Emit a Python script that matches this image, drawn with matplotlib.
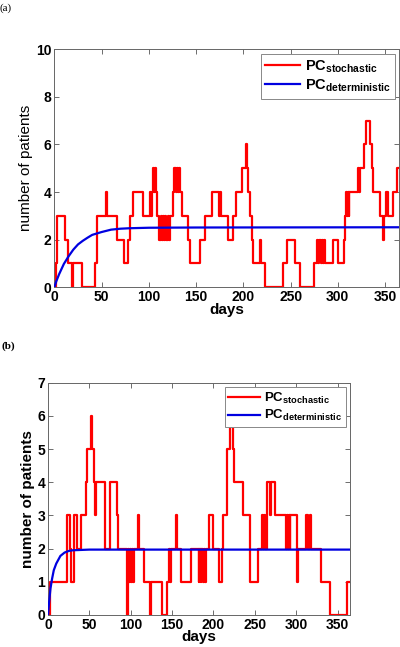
import matplotlib
matplotlib.use("Agg")
import matplotlib.pyplot as plt

plt.rcParams['font.family'] = ['Liberation Sans', 'DejaVu Sans']
plt.rcParams['mathtext.fontset'] = 'custom'
plt.rcParams['mathtext.rm'] = 'Liberation Sans'
plt.rcParams['mathtext.bf'] = 'Liberation Sans:bold'

# ---------------- data: panel (a) ----------------
a_step_days = [0, 1.4, 2.5, 3.2, 11, 14.8, 19, 20, 29, 42.5, 44.7, 54.3, 55.3, 65.8, 73.6,
               78.2, 80, 82.7, 94, 101, 102.5, 103, 104.6, 105.5, 106, 107.4, 108.8, 111,
               112.5, 113.5, 115, 116, 117.5, 118.5, 120, 121, 122, 126, 127, 128.5, 129.5,
               130.5, 131.5, 133, 135, 141.8, 143.6, 154.2, 159.5, 166.6, 174, 175, 176.5,
               183.5, 189.5, 192, 199, 202.5, 203.5, 205, 207, 209, 210.6, 217.5, 218.5,
               223.3, 241.7, 246, 254.8, 260, 275.2, 277.7, 279, 280.6, 282, 283, 284.5,
               285.5, 286.6, 294.6, 300.6, 306.6, 307.3, 309, 310, 310.7, 311.4, 312, 321,
               322, 323, 327.8, 329.6, 334.2, 336, 337.7, 344.8, 347.6, 349, 351, 353.5,
               358, 362.4]
a_step_vals = [0, 1, 2, 3, 2, 1, 0, 1, 0, 1, 3, 4, 3, 2, 1,
               2, 3, 4, 3, 4, 3, 4, 5, 4, 5, 4, 3, 2,
               3, 2, 3, 2, 3, 2, 3, 2, 3, 4, 5, 4, 5,
               4, 5, 4, 3, 2, 1, 2, 3, 4, 3, 4, 3,
               2, 3, 4, 5, 6, 5, 4, 3, 2, 1, 2, 1,
               0, 1, 2, 1, 0, 1, 2, 1, 2, 1, 2, 1,
               2, 1, 2, 1, 2, 3, 4, 3, 4, 3, 4, 5,
               4, 5, 6, 7, 6, 5, 4, 3, 2, 3, 4, 3,
               4, 5]
a_det_days = [0, 2, 5, 10, 15, 20, 25, 30, 35, 40, 50, 60, 70, 80, 100, 150, 365]
a_det_vals = [0, 0.25, 0.55, 0.98, 1.3, 1.58, 1.8, 1.95, 2.08, 2.2, 2.32, 2.42, 2.46, 2.48, 2.5, 2.51, 2.52]

# ---------------- data: panel (b) ----------------
b_step_days = [0, 2.4, 22.6, 23.5, 26.5, 27.4, 31.3, 34.5, 39.5, 46, 47.6, 52.3, 53.5, 56,
               57.3, 58, 69.4, 75, 83, 85, 96, 96.8, 98, 99.5, 100.5, 102, 103, 104.5,
               108.5, 110.5, 116.2, 123.5, 124.3, 137.6, 143.7, 146, 147, 148.5, 150,
               155.3, 156.3, 161, 172.7, 182, 183, 184.5, 185.5, 187, 188.5, 190, 191, 194,
               200, 206.2, 210, 212, 216.3, 219.5, 223, 224.4, 235.7, 244.6, 253.5, 258.8,
               260, 261, 262.5, 264.7, 268.8, 269.6, 274.8, 288, 289, 290, 291, 292, 293,
               301.5, 302.3, 312.3, 313.9, 316.4, 318.4, 330.2, 341.4, 360.8]
b_step_vals = [0, 1, 2, 3, 2, 1, 3, 2, 3, 4, 5, 6, 5, 4,
               3, 4, 2, 4, 3, 2, 0, 2, 1, 2, 1, 2, 1, 2,
               3, 2, 1, 0, 1, 0, 1, 2, 1, 2, 2,
               3, 2, 1, 2, 1, 2, 1, 2, 1, 2, 1, 2, 3,
               2, 1, 2, 3, 5, 6, 5, 4, 3, 1, 2, 3,
               2, 3, 2, 4, 3, 4, 3, 2, 3, 2, 3, 2, 3,
               1, 2, 3, 2, 3, 2, 1, 0, 1]
b_det_days = [0, 1, 2, 3, 5, 7, 10, 15, 20, 25, 30, 40, 50, 365]
b_det_vals = [0, 0.3, 0.55, 0.8, 1.1, 1.35, 1.55, 1.78, 1.88, 1.93, 1.95, 1.96, 1.97, 1.97]

x_end = 365
xticks = [0, 50, 100, 150, 200, 250, 300, 350]
a_yticks = [0, 2, 4, 6, 8, 10]
b_yticks = [0, 1, 2, 3, 4, 5, 6, 7]
lbl_stoch = r'$\mathbf{PC}_{\mathbf{stochastic}}$'
lbl_det = r'$\mathbf{PC}_{\mathbf{deterministic}}$'

fig = plt.figure(figsize=(4.0, 6.47), dpi=100)


def draw(ax, sd, sv, dd, dv, yticks, ylab_weight, legfs):
    ax.step(sd + [x_end], sv + [sv[-1]], where='post', color='#ff0000', lw=1.6,
            label=lbl_stoch, zorder=3)
    ax.plot(dd, dv, color='#0000e0', lw=1.6, label=lbl_det, zorder=4)
    ax.set_xlim(0, x_end)
    ax.set_ylim(yticks[0], yticks[-1])
    ax.set_xticks(xticks)
    ax.set_yticks(yticks)
    ax.tick_params(direction='in', length=3.5, width=0.6, top=True, right=True,
                   labelsize=10, pad=2, color='#555555')
    for lab in ax.get_xticklabels() + ax.get_yticklabels():
        lab.set_fontweight('bold')
    for s in ax.spines.values():
        s.set_color('#666666')
        s.set_linewidth(0.7)
    ax.set_xlabel('days', fontsize=11, fontweight='bold', labelpad=-1)
    ax.set_ylabel('number of patients', fontsize=11, fontweight=ylab_weight, labelpad=2)
    leg = ax.legend(loc='upper right', fontsize=legfs, frameon=True, fancybox=False,
                    framealpha=1, edgecolor='#888888', borderaxespad=0.3,
                    handlelength=2.4, handletextpad=0.3, labelspacing=0.2,
                    borderpad=0.3)
    leg.get_frame().set_linewidth(0.7)
    leg.set_zorder(10)


ax1 = fig.add_axes([0.136, 0.556, 0.862, 0.368])
draw(ax1, a_step_days, a_step_vals, a_det_days, a_det_vals, a_yticks, 'normal', 10.5)

ax2 = fig.add_axes([0.12, 0.0495, 0.755, 0.359])
draw(ax2, b_step_days, b_step_vals, b_det_days, b_det_vals, b_yticks, 'bold', 9.5)

fig.text(0.0, 0.995, '(a)', family='Liberation Serif', fontsize=8, va='top', ha='left')
fig.text(0.005, 0.472, '(b)', family='Liberation Serif', fontsize=8, fontweight='bold',
         va='top', ha='left')

fig.savefig('out.png', dpi=100)
